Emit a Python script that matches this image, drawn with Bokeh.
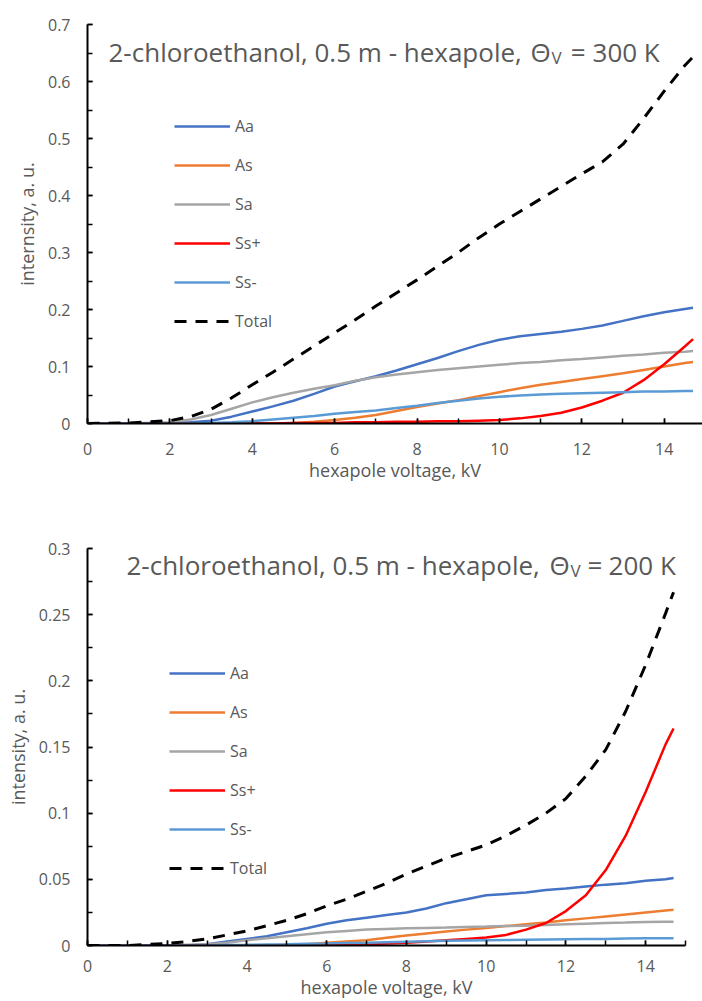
from bokeh.plotting import figure
from bokeh.models import (Range1d, SingleIntervalTicker, CustomJSTickFormatter,
                          Legend, LegendItem)
from bokeh.core.properties import value
from bokeh.embed import file_html
from bokeh.resources import INLINE

# hexapole voltage, kV
voltage = [0, 1, 2, 2.5, 3, 3.5, 4, 4.5, 5, 5.5, 6, 6.5, 7, 7.5, 8, 8.5, 9, 9.5,
           10, 10.5, 11, 11.5, 12, 12.5, 13, 13.5, 14, 14.5, 14.7]

# Theta_V = 300 K
aa_300 = [0, 0, 0.001, 0.002, 0.005, 0.012, 0.021, 0.030, 0.040, 0.052, 0.065, 0.074, 0.083, 0.093,
          0.104, 0.115, 0.127, 0.138, 0.147, 0.153, 0.157, 0.161, 0.166, 0.172, 0.180, 0.188,
          0.195, 0.201, 0.203]
as_300 = [0, 0, 0, 0, 0, 0, 0, 0, 0.001, 0.003, 0.006, 0.010, 0.015, 0.022,
          0.029, 0.035, 0.041, 0.048, 0.055, 0.062, 0.068, 0.073, 0.078, 0.083, 0.088, 0.094,
          0.100, 0.106, 0.108]
sa_300 = [0, 0, 0.002, 0.007, 0.015, 0.026, 0.037, 0.046, 0.054, 0.061, 0.067, 0.075, 0.081, 0.086,
          0.090, 0.094, 0.097, 0.100, 0.103, 0.106, 0.108, 0.111, 0.113, 0.116, 0.119, 0.121,
          0.124, 0.126, 0.127]
ssp_300 = [0, 0, 0, 0, 0, 0, 0, 0, 0.001, 0.001, 0.001, 0.002, 0.002, 0.003,
           0.003, 0.004, 0.004, 0.005, 0.006, 0.009, 0.013, 0.019, 0.028, 0.040, 0.054, 0.076,
           0.104, 0.135, 0.148]
ssm_300 = [0, 0, 0, 0, 0.001, 0.002, 0.004, 0.007, 0.010, 0.013, 0.017, 0.020, 0.023, 0.027,
           0.031, 0.036, 0.040, 0.044, 0.047, 0.049, 0.051, 0.052, 0.053, 0.054, 0.055, 0.056,
           0.056, 0.057, 0.057]
total_300 = [0, 0.001, 0.005, 0.012, 0.025, 0.045, 0.068, 0.090, 0.113, 0.136, 0.159, 0.182, 0.206, 0.229,
             0.252, 0.276, 0.300, 0.326, 0.350, 0.372, 0.394, 0.416, 0.438, 0.459, 0.490, 0.535,
             0.583, 0.628, 0.643]

# Theta_V = 200 K
aa_200 = [0, 0, 0, 0, 0.001, 0.003, 0.005, 0.007, 0.010, 0.013, 0.0165, 0.019, 0.021, 0.023,
          0.025, 0.028, 0.032, 0.035, 0.038, 0.039, 0.040, 0.042, 0.043, 0.0445, 0.046, 0.047,
          0.049, 0.050, 0.051]
as_200 = [0, 0, 0, 0, 0, 0, 0, 0, 0.0005, 0.001, 0.002, 0.003, 0.004, 0.0058,
          0.0075, 0.009, 0.0105, 0.012, 0.0133, 0.0147, 0.016, 0.0173, 0.019, 0.0205, 0.022, 0.0235,
          0.025, 0.0265, 0.027]
sa_200 = [0, 0, 0, 0.0005, 0.001, 0.002, 0.004, 0.0055, 0.007, 0.0085, 0.010, 0.011, 0.012, 0.0125,
          0.013, 0.0133, 0.0136, 0.014, 0.0143, 0.0147, 0.015, 0.0155, 0.016, 0.0165, 0.017, 0.0173,
          0.0177, 0.018, 0.018]
ssp_200 = [0, 0, 0, 0, 0, 0, 0, 0, 0, 0, 0.0005, 0.0007, 0.001, 0.0015,
           0.002, 0.003, 0.004, 0.005, 0.006, 0.008, 0.012, 0.017, 0.026, 0.038, 0.057, 0.083,
           0.116, 0.152, 0.164]
ssm_200 = [0, 0, 0, 0, 0, 0.0003, 0.0005, 0.0008, 0.001, 0.0013, 0.0015, 0.0018, 0.002, 0.0024,
           0.0028, 0.0032, 0.0035, 0.0038, 0.004, 0.0042, 0.0044, 0.0046, 0.0048, 0.005, 0.005, 0.0052,
           0.0054, 0.0055, 0.0055]
total_200 = [0, 0, 0.0015, 0.003, 0.005, 0.008, 0.011, 0.015, 0.019, 0.024, 0.030, 0.035, 0.041, 0.047,
             0.054, 0.060, 0.066, 0.071, 0.076, 0.083, 0.091, 0.100, 0.111, 0.128, 0.148, 0.177,
             0.212, 0.251, 0.267]

series_names = ["Aa", "As", "Sa", "Ss+", "Ss-", "Total"]
series_colors = ["#4472C4", "#ED7D31", "#A5A5A5", "#FF0000", "#5B9BD5", "black"]

FONT = "Open Sans"
TEXT = "#595959"


def make_panel(series, theta, y_title, height, border_top, border_bottom, border_right,
               x_end, y_end, y_step, legend_loc, title_pos, tick_standoff, label_standoff):
    p = figure(width=702, height=height, output_backend="svg", toolbar_location=None,
               x_range=Range1d(0, x_end), y_range=Range1d(0, y_end),
               min_border_left=87, min_border_right=border_right,
               min_border_top=border_top, min_border_bottom=border_bottom)
    p.outline_line_color = None
    p.grid.grid_line_color = None
    p.background_fill_color = "white"

    p.xaxis.ticker = SingleIntervalTicker(interval=2, num_minor_ticks=2)
    p.yaxis.ticker = SingleIntervalTicker(interval=y_step, num_minor_ticks=2)
    p.yaxis.formatter = CustomJSTickFormatter(code="return Number(tick.toFixed(3)).toString();")
    p.xaxis.axis_label = "hexapole voltage, kV"
    p.yaxis.axis_label = y_title
    for ax in (p.xaxis[0], p.yaxis[0]):
        ax.axis_line_color = "black"
        ax.axis_line_width = 2
        ax.major_tick_line_color = "black"
        ax.minor_tick_line_color = "black"
        ax.major_tick_line_width = 1.5
        ax.minor_tick_line_width = 1.5
        ax.major_tick_in = 5
        ax.major_tick_out = 0
        ax.minor_tick_in = 5
        ax.minor_tick_out = 0
        ax.major_label_text_font = FONT
        ax.major_label_text_font_size = "16px"
        ax.major_label_text_color = TEXT
        ax.axis_label_text_font = FONT
        ax.axis_label_text_font_size = "18px"
        ax.axis_label_text_color = TEXT
        ax.axis_label_text_font_style = "normal"
    p.xaxis.major_label_standoff = tick_standoff
    p.xaxis.axis_label_standoff = label_standoff
    p.yaxis.major_label_standoff = 17
    p.yaxis.axis_label_standoff = 6

    items = []
    for name, color, ys in zip(series_names, series_colors, series):
        if name == "Total":
            r = p.line(voltage, ys, line_color=color, line_width=3, line_dash="12 9")
        else:
            r = p.line(voltage, ys, line_color=color, line_width=2.5)
        items.append(LegendItem(label=name, renderers=[r]))

    legend = Legend(items=items, location=legend_loc, orientation="vertical",
                    glyph_width=56, glyph_height=20, label_height=20, label_standoff=5,
                    spacing=17, padding=0, margin=0,
                    border_line_alpha=0, background_fill_alpha=0,
                    label_text_font=FONT, label_text_font_size="16px",
                    label_text_color=TEXT)
    p.add_layout(legend, "center")

    # chart heading with subscripted V
    x_start, x_theta, x_sub, x_eq, x_num, y_base, y_sub = title_pos
    common = dict(text_font=value(FONT), text_color=TEXT, text_baseline="alphabetic",
                  text_align="left")
    p.text(x=[x_start], y=[y_base], text=["2-chloroethanol, 0.5 m - hexapole,"],
           text_font_size=value("26px"), **common)
    p.text(x=[x_theta], y=[y_base], text=["\u0398"],
           text_font_size=value("26px"), **common)
    p.text(x=[x_sub], y=[y_sub], text=["V"],
           text_font_size=value("17px"), **common)
    p.text(x=[x_eq], y=[y_base], text=["="],
           text_font_size=value("26px"), **common)
    p.text(x=[x_num], y=[y_base], text=[f"{theta} K"],
           text_font_size=value("26px"), **common)
    return p


top = make_panel([aa_300, as_300, sa_300, ssp_300, ssm_300, total_300], 300,
                 "internsity, a. u.",
                 height=500, border_top=24, border_bottom=77, border_right=0,
                 x_end=14.93, y_end=0.70001, y_step=0.1, legend_loc=(87, 91),
                 title_pos=(0.51, 10.755, 11.265, 11.73, 12.26, 0.6509, 0.6421),
                 tick_standoff=19, label_standoff=0)
bottom = make_panel([aa_200, as_200, sa_200, ssp_200, ssm_200, total_200], 200,
                    "intensity, a. u.",
                    height=501, border_top=48, border_bottom=56, border_right=17,
                    x_end=15, y_end=0.30001, y_step=0.05, legend_loc=(82, 66),
                    title_pos=(0.978, 11.588, 12.114, 12.54, 13.07, 0.2872, 0.2834),
                    tick_standoff=14, label_standoff=0)

# two independent roots, so each panel keeps its own frame width
open("out.html", "w").write(file_html([top, bottom], INLINE))
